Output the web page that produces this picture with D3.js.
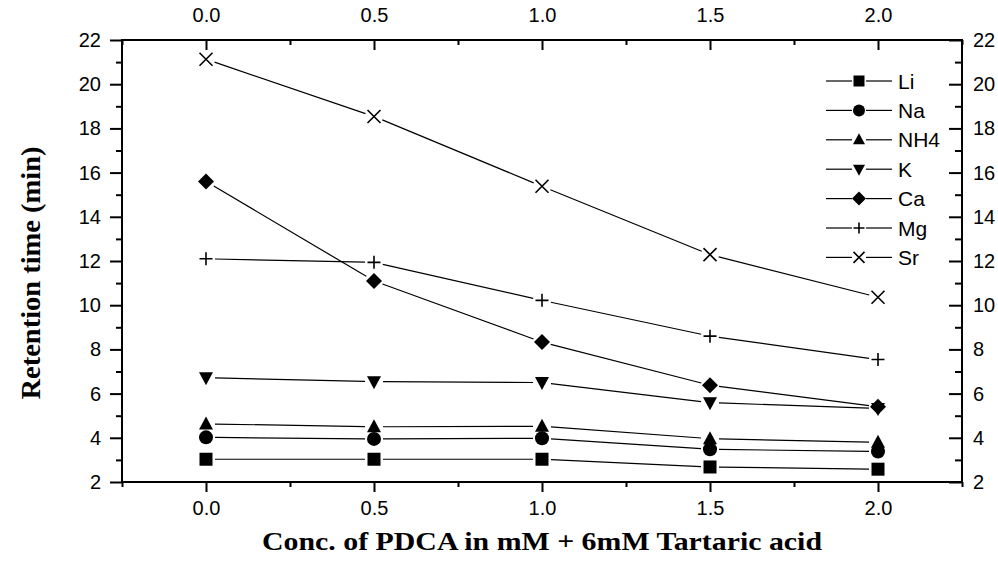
<!DOCTYPE html>
<html><head><meta charset="utf-8">
<script src="https://cdn.jsdelivr.net/npm/d3@7"></script>
<style>body{margin:0;background:#fff}svg{display:block}</style>
</head><body>
<script>
const xValues = [0.0, 0.5, 1.0, 1.5, 2.0];
const seriesNames = ["Li", "Na", "NH4", "K", "Ca", "Mg", "Sr"];
const Li  = [3.03, 3.03, 3.03, 2.68, 2.58];
const Na  = [4.02, 3.95, 3.98, 3.48, 3.38];
const NH4 = [4.63, 4.50, 4.52, 3.96, 3.80];
const K   = [6.72, 6.54, 6.50, 5.59, 5.33];
const Ca  = [15.60, 11.10, 8.33, 6.38, 5.40];
const Mg  = [12.10, 11.94, 10.22, 8.60, 7.54];
const Sr  = [21.13, 18.54, 15.38, 12.29, 10.36];
const xTicks = [0.0, 0.5, 1.0, 1.5, 2.0];
const yTicks = [2, 4, 6, 8, 10, 12, 14, 16, 18, 20, 22];
const symbols = ["square", "circle", "triangle", "triangleDown", "diamond", "plus", "cross"];
const seriesData = [Li, Na, NH4, K, Ca, Mg, Sr];

const W = 998, H = 561;
const L = 122, R = 962, T = 40, B = 482;
const svg = d3.select("body").append("svg").attr("width", W).attr("height", H);
const x = d3.scaleLinear().domain([-0.25, 2.25]).range([L, R]);
const y = d3.scaleLinear().domain([2, 22]).range([B, T]);

const tickFont = "'Liberation Sans', Arial, Helvetica, sans-serif";
const serif = "'Liberation Serif', 'Times New Roman', serif";
const fmt = d3.format(".1f");

function styleAxis(g){
  g.selectAll(".domain").remove();
  g.selectAll("line").attr("stroke", "#000").attr("stroke-width", 2);
  g.selectAll("text").attr("font-family", tickFont).attr("font-size", 20).attr("fill", "#000");
}
const xMinor = d3.range(-0.25, 2.26, 0.25).filter(v => Math.abs(v*2 - Math.round(v*2)) > 0.01);
const yMinor = d3.range(3, 22, 2);

// bottom
svg.append("g").attr("transform", `translate(0,${B})`)
  .call(d3.axisBottom(x).tickValues(xTicks).tickFormat(fmt).tickSize(10).tickPadding(9)).call(styleAxis);
svg.append("g").attr("transform", `translate(0,${B})`)
  .call(d3.axisBottom(x).tickValues(xMinor).tickFormat("").tickSize(5)).call(styleAxis);
// top (ticks inward, labels outside)
svg.append("g").attr("transform", `translate(0,${T})`)
  .call(d3.axisTop(x).tickValues(xTicks).tickFormat(fmt).tickSize(-10).tickPadding(18)).call(styleAxis);
svg.append("g").attr("transform", `translate(0,${T})`)
  .call(d3.axisTop(x).tickValues(xMinor).tickFormat("").tickSize(-5)).call(styleAxis);
// left
svg.append("g").attr("transform", `translate(${L},0)`)
  .call(d3.axisLeft(y).tickValues(yTicks).tickSize(12).tickPadding(9)).call(styleAxis);
svg.append("g").attr("transform", `translate(${L},0)`)
  .call(d3.axisLeft(y).tickValues(yMinor).tickFormat("").tickSize(6)).call(styleAxis);
// right (ticks inward)
svg.append("g").attr("transform", `translate(${R},0)`)
  .call(d3.axisRight(y).tickValues(yTicks).tickSize(-13).tickPadding(11)).call(styleAxis);
svg.append("g").attr("transform", `translate(${R},0)`)
  .call(d3.axisRight(y).tickValues(yMinor).tickFormat("").tickSize(-7)).call(styleAxis);

// frame
svg.append("rect").attr("x", L).attr("y", T).attr("width", R-L).attr("height", B-T)
  .attr("fill", "none").attr("stroke", "#000").attr("stroke-width", 2);

// symbol drawing
function drawSymbol(g, type, cx, cy, s){
  const h = s/2;
  if (type === "square") g.append("rect").attr("x", cx-h).attr("y", cy-h).attr("width", s).attr("height", s).attr("fill", "#000");
  else if (type === "circle") g.append("circle").attr("cx", cx).attr("cy", cy).attr("r", h+0.5).attr("fill", "#000");
  else if (type === "triangle") g.append("path").attr("d", `M${cx},${cy-h-1}L${cx+h+0.5},${cy+h-1}L${cx-h-0.5},${cy+h-1}Z`).attr("fill", "#000");
  else if (type === "triangleDown") g.append("path").attr("d", `M${cx},${cy+h+1}L${cx+h+0.5},${cy-h+1}L${cx-h-0.5},${cy-h+1}Z`).attr("fill", "#000");
  else if (type === "diamond") g.append("path").attr("d", `M${cx},${cy-h-1.5}L${cx+h+1.5},${cy}L${cx},${cy+h+1.5}L${cx-h-1.5},${cy}Z`).attr("fill", "#000");
  else if (type === "plus") g.append("path").attr("d", `M${cx-h},${cy}L${cx+h},${cy}M${cx},${cy-h}L${cx},${cy+h}`).attr("stroke", "#000").attr("stroke-width", 1.6).attr("fill", "none");
  else if (type === "cross") g.append("path").attr("d", `M${cx-h},${cy-h}L${cx+h},${cy+h}M${cx+h},${cy-h}L${cx-h},${cy+h}`).attr("stroke", "#000").attr("stroke-width", 1.6).attr("fill", "none");
}

const gap = 9;
const plot = svg.append("g");
seriesData.forEach((vals, si) => {
  const pts = vals.map((v, i) => [x(xValues[i]), y(v)]);
  for (let i = 0; i < pts.length - 1; i++){
    const [x1, y1] = pts[i], [x2, y2] = pts[i+1];
    const dx = x2-x1, dy = y2-y1, len = Math.hypot(dx, dy);
    const ux = dx/len, uy = dy/len;
    plot.append("line")
      .attr("x1", x1+ux*gap).attr("y1", y1+uy*gap)
      .attr("x2", x2-ux*gap).attr("y2", y2-uy*gap)
      .attr("stroke", "#000").attr("stroke-width", 1.2);
  }
  pts.forEach(p => drawSymbol(plot, symbols[si], p[0], p[1], 13));
});

// legend
const lg = svg.append("g");
seriesNames.forEach((name, i) => {
  const cy = 81 + i*29.4;
  lg.append("line").attr("x1", 826).attr("x2", 852).attr("y1", cy).attr("y2", cy).attr("stroke", "#000").attr("stroke-width", 1.2);
  lg.append("line").attr("x1", 866).attr("x2", 892).attr("y1", cy).attr("y2", cy).attr("stroke", "#000").attr("stroke-width", 1.2);
  drawSymbol(lg, symbols[i], 859, cy, 11);
  lg.append("text").attr("x", 898).attr("y", cy).attr("dy", "0.36em")
    .attr("font-family", tickFont).attr("font-size", 21).text(name);
});

// titles
svg.append("text").attr("x", 542).attr("y", 550).attr("text-anchor", "middle")
  .attr("font-family", serif).attr("font-weight", "bold").attr("font-size", 26)
  .attr("textLength", 560).attr("lengthAdjust", "spacingAndGlyphs")
  .text("Conc. of PDCA in mM + 6mM Tartaric acid");
svg.append("text").attr("transform", `translate(40,${273}) rotate(-90)`).attr("text-anchor", "middle")
  .attr("font-family", serif).attr("font-weight", "bold").attr("font-size", 27)
  .attr("textLength", 253).attr("lengthAdjust", "spacingAndGlyphs")
  .text("Retention time (min)");
</script>
</body></html>
